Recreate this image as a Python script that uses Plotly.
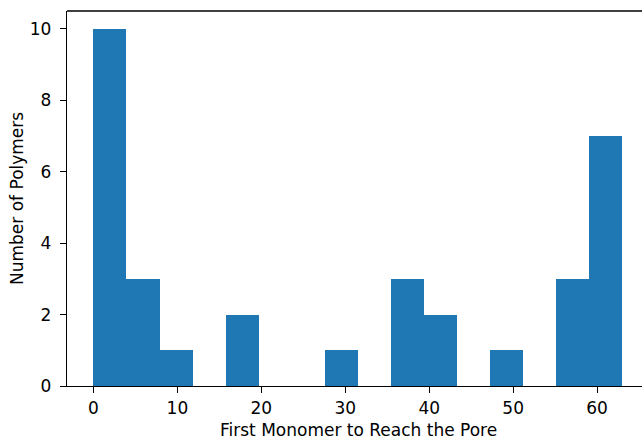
import numpy as np
import plotly.graph_objects as go

# Histogram of the first monomer index reaching the pore
bin_start = 0.0
bin_end = 63.0
n_bins = 16
counts = [10, 3, 1, 0, 2, 0, 0, 1, 0, 3, 2, 0, 1, 0, 3, 7]

x_ticks = [0, 10, 20, 30, 40, 50, 60]
y_ticks = [0, 2, 4, 6, 8, 10]

x_title = "First Monomer to Reach the Pore"
y_title = "Number of Polymers"

edges = np.linspace(bin_start, bin_end, n_bins + 1)
width = edges[1] - edges[0]
centers = edges[:-1] + width / 2

font = dict(family="DejaVu Sans", size=17, color="black")

# plot-area geometry in pixels
W, H = 642, 438
ML, MR, MT, MB = 67, 0, 10.5, 51.5
pw, ph = W - ML - MR, H - MT - MB

fig = go.Figure(
    go.Bar(
        x=centers,
        y=counts,
        width=[width] * n_bins,
        marker=dict(color="#1f77b4", line=dict(width=0)),
        hoverinfo="x+y",
    )
)

fig.update_layout(
    width=W,
    height=H,
    margin=dict(l=ML, r=MR, t=MT, b=MB),
    plot_bgcolor="white",
    paper_bgcolor="white",
    font=font,
    showlegend=False,
    bargap=0,
)

axis_style = dict(
    ticks="outside",
    ticklen=6,
    tickwidth=1.3,
    tickcolor="black",
    showline=True,
    linecolor="black",
    linewidth=1.3,
    showgrid=False,
    zeroline=False,
)
fig.update_xaxes(range=[-3.15, 65.35], tickvals=x_ticks, **axis_style)
fig.update_yaxes(range=[0, 10.5], tickvals=y_ticks, ticklabelstandoff=5, **axis_style)

# axis titles, centred on the full axes box
fig.add_annotation(
    text=x_title, showarrow=False, font=font,
    xref="paper", yref="paper",
    x=(358 - ML) / pw, y=(H - MB - 430.5) / ph,
    xanchor="center", yanchor="middle",
)
fig.add_annotation(
    text=y_title, showarrow=False, font=font, textangle=-90,
    xref="paper", yref="paper",
    x=(16.5 - ML) / pw, y=0.5,
    xanchor="center", yanchor="middle",
)

# top frame line
fig.add_shape(
    type="line", xref="paper", yref="paper",
    x0=0, x1=1, y0=1, y1=1,
    line=dict(color="black", width=1.3),
)

fig.write_html("out.html")
